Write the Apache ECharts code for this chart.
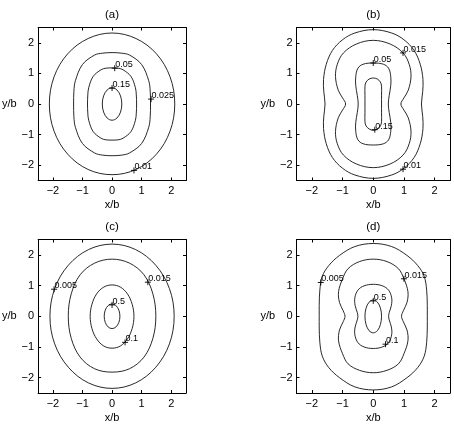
<!DOCTYPE html>
<html>
<head>
<meta charset="utf-8">
<script src="https://cdn.jsdelivr.net/npm/echarts@6/dist/echarts.min.js"></script>
<style>
html,body{margin:0;padding:0;background:#fff;}
#chart{width:454px;height:428px;}
</style>
</head>
<body>
<div id="chart"></div>
<script>
// ---------- data ----------
const panelTitles = ['(a)', '(b)', '(c)', '(d)'];
const tickValues = [-2, -1, 0, 1, 2];
const axisMin = -2.5;
const axisMax = 2.5;

// contour levels per panel (outer -> inner)
const levelsA = [0.01, 0.025, 0.05, 0.15];
const levelsB = [0.01, 0.015, 0.05, 0.15];
const levelsC = [0.005, 0.015, 0.1, 0.5];
const levelsD = [0.005, 0.015, 0.1, 0.5];

// contour loops, [x/b, y/b]
const contoursA = [
  [[2.12,0],[1.96,0.89],[1.50,1.64],[0.81,2.14],[0,2.32],[-0.81,2.14],[-1.50,1.64],[-1.96,0.89],
   [-2.12,0],[-1.96,-0.89],[-1.50,-1.64],[-0.81,-2.14],[0,-2.31],[0.81,-2.14],[1.50,-1.64],[1.96,-0.89]],
  [[1.30,0],[1.29,0.42],[1.24,0.76],[1.00,1.29],[0.59,1.60],[0.33,1.66],[0,1.68],[-0.33,1.66],[-0.59,1.60],
   [-1.00,1.29],[-1.24,0.76],[-1.29,0.42],[-1.30,0],[-1.29,-0.42],[-1.24,-0.76],[-1.00,-1.29],[-0.59,-1.60],
   [-0.33,-1.67],[0,-1.69],[0.33,-1.67],[0.59,-1.60],[1.00,-1.29],[1.24,-0.76],[1.29,-0.42]],
  [[0.83,0],[0.82,0.30],[0.79,0.53],[0.64,0.90],[0.37,1.12],[0.21,1.17],[0,1.18],[-0.21,1.17],[-0.37,1.12],
   [-0.64,0.90],[-0.79,0.53],[-0.82,0.30],[-0.83,0],[-0.82,-0.30],[-0.79,-0.53],[-0.64,-0.90],[-0.37,-1.12],
   [-0.21,-1.17],[0,-1.18],[0.21,-1.17],[0.37,-1.12],[0.64,-0.90],[0.79,-0.53],[0.82,-0.30]],
  [[0.33,0],[0.286,0.265],[0.165,0.459],[0,0.53],[-0.165,0.459],[-0.286,0.265],[-0.33,0],[-0.286,-0.265],
   [-0.165,-0.459],[0,-0.53],[0.165,-0.459],[0.286,-0.265]]
];

const contoursB = [
  [[1.57,0],[1.61,0.40],[1.62,0.80],[1.53,1.30],[1.33,1.75],[1.00,2.10],[0.60,2.32],[0,2.43],[-0.60,2.32],
   [-1.00,2.10],[-1.33,1.75],[-1.53,1.30],[-1.62,0.80],[-1.61,0.40],[-1.57,0],[-1.61,-0.40],[-1.62,-0.80],
   [-1.53,-1.30],[-1.33,-1.75],[-1.00,-2.10],[-0.60,-2.32],[0,-2.43],[0.60,-2.32],[1.00,-2.10],[1.33,-1.75],
   [1.53,-1.30],[1.62,-0.80],[1.61,-0.40]],
  [[0.90,0],[1.00,0.20],[1.14,0.45],[1.23,0.90],[1.17,1.30],[0.97,1.67],[0.55,1.96],[0,2.08],[-0.55,1.96],
   [-0.97,1.67],[-1.17,1.30],[-1.23,0.90],[-1.14,0.45],[-1.00,0.20],[-0.90,0],[-1.00,-0.20],[-1.14,-0.45],
   [-1.23,-0.90],[-1.17,-1.30],[-0.97,-1.67],[-0.55,-1.96],[0,-2.08],[0.55,-1.96],[0.97,-1.67],[1.17,-1.30],
   [1.23,-0.90],[1.14,-0.45],[1.00,-0.20]],
  [[0.49,0],[0.52,0.28],[0.57,0.60],[0.57,0.90],[0.50,1.17],[0.33,1.30],[0,1.34],[-0.33,1.30],[-0.50,1.17],
   [-0.57,0.90],[-0.57,0.60],[-0.52,0.28],[-0.49,0],[-0.52,-0.28],[-0.57,-0.60],[-0.57,-0.90],[-0.50,-1.17],
   [-0.33,-1.30],[0,-1.34],[0.33,-1.30],[0.50,-1.17],[0.57,-0.90],[0.57,-0.60],[0.52,-0.28]],
  [[0.27,0],[0.27,0.29],[0.27,0.58],[0.234,0.715],[0.135,0.815],[0,0.85],[-0.135,0.815],[-0.234,0.715],
   [-0.27,0.58],[-0.27,0.29],[-0.27,0],[-0.27,-0.29],[-0.27,-0.58],[-0.234,-0.715],[-0.135,-0.815],[0,-0.86],
   [0.135,-0.815],[0.234,-0.715],[0.27,-0.58],[0.27,-0.29]]
];

const contoursC = [
  [[2.10,0],[1.94,0.90],[1.48,1.66],[0.80,2.17],[0,2.35],[-0.80,2.17],[-1.48,1.66],[-1.94,0.90],
   [-2.10,0],[-1.94,-0.90],[-1.48,-1.66],[-0.80,-2.17],[0,-2.35],[0.80,-2.17],[1.48,-1.66],[1.94,-0.90]],
  [[1.48,0],[1.38,0.73],[1.08,1.35],[0.59,1.73],[0,1.86],[-0.59,1.73],[-1.08,1.35],[-1.38,0.73],
   [-1.48,0],[-1.38,-0.72],[-1.08,-1.33],[-0.59,-1.71],[0,-1.82],[0.59,-1.71],[1.08,-1.33],[1.38,-0.72]],
  [[0.74,0],[0.68,0.39],[0.52,0.73],[0.28,0.95],[0,1.02],[-0.28,0.95],[-0.52,0.73],[-0.68,0.39],
   [-0.74,0],[-0.68,-0.40],[-0.52,-0.74],[-0.28,-0.97],[0,-1.04],[0.28,-0.97],[0.52,-0.74],[0.68,-0.40]],
  [[0.265,0],[0.23,0.20],[0.13,0.35],[0,0.40],[-0.13,0.35],[-0.23,0.20],[-0.265,0],[-0.23,-0.20],
   [-0.13,-0.35],[0,-0.40],[0.13,-0.35],[0.23,-0.20]]
];

const contoursD = [
  [[1.76,0],[1.76,0.35],[1.74,0.85],[1.66,1.30],[1.45,1.65],[1.10,1.98],[0.60,2.27],[0,2.37],[-0.60,2.27],
   [-1.10,1.98],[-1.45,1.65],[-1.66,1.30],[-1.74,0.85],[-1.76,0.35],[-1.76,0],[-1.76,-0.35],[-1.74,-0.85],
   [-1.66,-1.30],[-1.45,-1.67],[-1.10,-2.00],[-0.60,-2.30],[0,-2.40],[0.60,-2.30],[1.10,-2.00],[1.45,-1.67],
   [1.66,-1.30],[1.74,-0.85],[1.76,-0.35]],
  [[0.92,0],[0.98,0.18],[1.10,0.45],[1.13,0.80],[1.00,1.22],[0.82,1.55],[0.45,1.78],[0,1.86],[-0.45,1.78],
   [-0.82,1.55],[-1.00,1.22],[-1.13,0.80],[-1.10,0.45],[-0.98,0.18],[-0.92,0],[-0.98,-0.18],[-1.10,-0.45],
   [-1.13,-0.80],[-1.00,-1.22],[-0.82,-1.55],[-0.45,-1.76],[0,-1.84],[0.45,-1.76],[0.82,-1.55],[1.00,-1.22],
   [1.13,-0.80],[1.10,-0.45],[0.98,-0.18]],
  [[0.50,0],[0.52,0.12],[0.59,0.35],[0.60,0.60],[0.50,0.85],[0.30,0.99],[0,1.04],[-0.30,0.99],[-0.50,0.85],
   [-0.60,0.60],[-0.59,0.35],[-0.52,0.12],[-0.50,0],[-0.52,-0.12],[-0.59,-0.35],[-0.60,-0.60],[-0.50,-0.86],
   [-0.30,-1.00],[0,-1.05],[0.30,-1.00],[0.50,-0.86],[0.60,-0.60],[0.59,-0.35],[0.52,-0.12]],
  [[0.27,0],[0.234,0.265],[0.135,0.459],[0,0.53],[-0.135,0.459],[-0.234,0.265],[-0.27,0],[-0.234,-0.27],
   [-0.135,-0.47],[0,-0.54],[0.135,-0.47],[0.234,-0.27]]
];

// contour labels: [x/b, y/b, text]
const labelsA = [[0.09,1.17,'0.05'],[0.0,0.52,'0.15'],[1.32,0.16,'0.025'],[0.74,-2.17,'0.01']];
const labelsB = [[0.97,1.67,'0.015'],[0.0,1.34,'0.05'],[0.05,-0.84,'0.15'],[0.97,-2.13,'0.01']];
const labelsC = [[-1.96,0.88,'0.005'],[1.21,1.11,'0.015'],[0.0,0.37,'0.5'],[0.44,-0.85,'0.1']];
const labelsD = [[-1.71,1.10,'0.005'],[1.00,1.22,'0.015'],[0.0,0.50,'0.5'],[0.40,-0.91,'0.1']];

// ---------- build ----------
const FONT = "'Liberation Sans', Arial, Helvetica, sans-serif";
const gridBoxes = [
  {left: 32.5, top: 27.5, width: 153.5, height: 153},
  {left: 296.5, top: 27.5, width: 153.5, height: 153},
  {left: 32.5, top: 239.5, width: 153.5, height: 153.5},
  {left: 296.5, top: 239.5, width: 153.5, height: 153.5}
];
const panelContours = [contoursA, contoursB, contoursC, contoursD];
const panelLevels = [levelsA, levelsB, levelsC, levelsD];
const panelLabels = [labelsA, labelsB, labelsC, labelsD];

const fmt = v => String(v).replace('-', '\u2212');
const lineCol = '#000';

const xAxes = [], yAxes = [], series = [];
gridBoxes.forEach((g, i) => {
  const base = {
    type: 'value', min: axisMin, max: axisMax, gridIndex: i,
    splitLine: {show: false},
    axisLine: {show: true, onZero: false, lineStyle: {color: lineCol, width: 1}},
    axisTick: {show: true, inside: true, length: 3, customValues: tickValues, lineStyle: {color: lineCol, width: 1}}
  };
  xAxes.push(Object.assign({}, base, {
    position: 'bottom',
    name: 'x/b', nameLocation: 'middle', nameGap: 19,
    nameTextStyle: {fontFamily: FONT, fontSize: 11, color: '#000'},
    axisLabel: {show: true, customValues: tickValues, formatter: fmt, margin: 5,
                fontFamily: FONT, fontSize: 11, color: '#000'}
  }));
  xAxes.push(Object.assign({}, base, {
    position: 'top',
    name: panelTitles[i], nameLocation: 'middle', nameGap: 7,
    nameTextStyle: {fontFamily: FONT, fontSize: 11.5, color: '#000'},
    axisLabel: {show: false}
  }));
  yAxes.push(Object.assign({}, base, {
    position: 'left',
    name: 'y/b', nameLocation: 'middle', nameGap: 13.5, nameRotate: 0,
    nameTextStyle: {fontFamily: FONT, fontSize: 11, color: '#000', align: 'right', verticalAlign: 'middle', padding: [0, 0, 7, 0]},
    axisLabel: {show: true, customValues: tickValues, formatter: fmt, margin: 4,
                fontFamily: FONT, fontSize: 11, color: '#000'}
  }));
  yAxes.push(Object.assign({}, base, {
    position: 'right',
    axisLabel: {show: false}
  }));

  const loops = panelContours[i];
  series.push({
    type: 'custom', coordinateSystem: 'cartesian2d',
    xAxisIndex: 2 * i, yAxisIndex: 2 * i,
    silent: true, animation: false,
    data: panelLevels[i].map(lv => [0, 0, lv]),
    renderItem: (params, api) => {
      const loop = loops[params.dataIndex];
      return {
        type: 'polygon',
        shape: {points: loop.map(p => api.coord(p)), smooth: 0.35},
        style: {fill: 'none', stroke: '#111', lineWidth: 0.9}
      };
    }
  });

  const labs = panelLabels[i];
  series.push({
    type: 'custom', coordinateSystem: 'cartesian2d',
    xAxisIndex: 2 * i, yAxisIndex: 2 * i,
    silent: true, animation: false,
    data: labs.map(l => [l[0], l[1]]),
    renderItem: (params, api) => {
      const l = labs[params.dataIndex];
      const p = api.coord([api.value(0), api.value(1)]);
      const s = 3;
      return {
        type: 'group',
        children: [
          {type: 'line', shape: {x1: p[0] - s, y1: p[1], x2: p[0] + s, y2: p[1]}, style: {stroke: '#000', lineWidth: 0.9}},
          {type: 'line', shape: {x1: p[0], y1: p[1] - s, x2: p[0], y2: p[1] + s}, style: {stroke: '#000', lineWidth: 0.9}},
          {type: 'text', x: p[0] + 0.5, y: p[1] + 1,
           style: {text: l[2], fill: '#000', fontSize: 9, fontFamily: FONT, align: 'left', verticalAlign: 'bottom'}}
        ]
      };
    }
  });
});

const chart = echarts.init(document.getElementById('chart'), null, {renderer: 'canvas'});
chart.setOption({
  animation: false,
  backgroundColor: '#fff',
  grid: gridBoxes.map(g => Object.assign({containLabel: false}, g)),
  xAxis: xAxes,
  yAxis: yAxes,
  series: series
});
</script>
</body>
</html>
